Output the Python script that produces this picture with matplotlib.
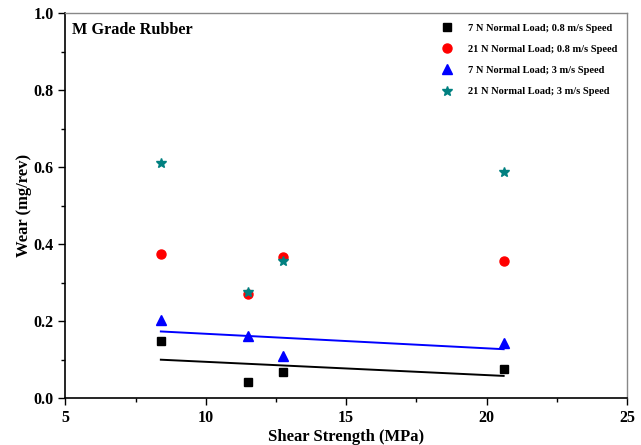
import numpy as np
import matplotlib
matplotlib.use('Agg')
import matplotlib.pyplot as plt
from matplotlib.ticker import MultipleLocator

# shear strength (MPa) for the four samples
shear = [8.40, 11.52, 12.76, 20.61]

# wear (mg/rev) for each test condition
wear_7n_08 = [0.148, 0.041, 0.067, 0.077]
wear_21n_08 = [0.374, 0.270, 0.367, 0.356]
wear_7n_3 = [0.203, 0.163, 0.110, 0.144]
wear_21n_3 = [0.612, 0.275, 0.357, 0.588]

labels = ['7 N Normal Load; 0.8 m/s Speed',
          '21 N Normal Load; 0.8 m/s Speed',
          '7 N Normal Load; 3 m/s Speed',
          '21 N Normal Load; 3 m/s Speed']

plt.rcParams['font.family'] = ['Liberation Serif', 'DejaVu Serif']
plt.rcParams['font.weight'] = 'bold'

fig = plt.figure(figsize=(6.41, 4.45), dpi=100)
ax = fig.add_axes([0.102, 0.105, 0.876, 0.865])

ax.plot(shear, wear_7n_08, 's', color='black', markersize=6, label=labels[0])
ax.plot(shear, wear_21n_08, 'o', color='red', markersize=6.5, label=labels[1])
ax.plot(shear, wear_7n_3, '^', color='blue', markersize=7, label=labels[2])
ax.plot(shear, wear_21n_3, '*', color='teal', markersize=7.5, label=labels[3])

# linear fits for the two low-load series
xs = np.array([min(shear), max(shear)])
k, b = np.polyfit(shear, wear_7n_08, 1)
ax.plot(xs, k * xs + b, color='black', linewidth=1.4)
k, b = np.polyfit(shear, wear_7n_3, 1)
ax.plot(xs, k * xs + b, color='blue', linewidth=1.4)

ax.set_xlim(5, 25)
ax.set_ylim(0, 1.0)
ax.xaxis.set_major_locator(MultipleLocator(5))
ax.xaxis.set_minor_locator(MultipleLocator(2.5))
ax.yaxis.set_major_locator(MultipleLocator(0.2))
ax.yaxis.set_minor_locator(MultipleLocator(0.1))
ax.tick_params(which='major', direction='out', length=5, width=1, labelsize=11.5)
ax.tick_params(which='minor', direction='out', length=3, width=1)
for lab in ax.get_xticklabels() + ax.get_yticklabels():
    lab.set_fontweight('bold')

for s in ['left', 'bottom']:
    ax.spines[s].set_linewidth(1.2)
for s in ['top', 'right']:
    ax.spines[s].set_color('#888888')
    ax.spines[s].set_linewidth(1.0)

ax.set_xlabel('Shear Strength (MPa)', fontsize=12, fontweight='bold', labelpad=2)
ax.set_ylabel('Wear (mg/rev)', fontsize=12, fontweight='bold', labelpad=1)
ax.text(0.012, 0.978, 'M Grade Rubber', transform=ax.transAxes, fontsize=11.7,
        fontweight='bold', va='top', ha='left')

ax.legend(loc='upper right', frameon=False, handletextpad=1.2,
          labelspacing=1.15, borderaxespad=0.55, handlelength=1.5,
          prop={'weight': 'bold', 'size': 7.5})

fig.savefig('out.png', dpi=100)
